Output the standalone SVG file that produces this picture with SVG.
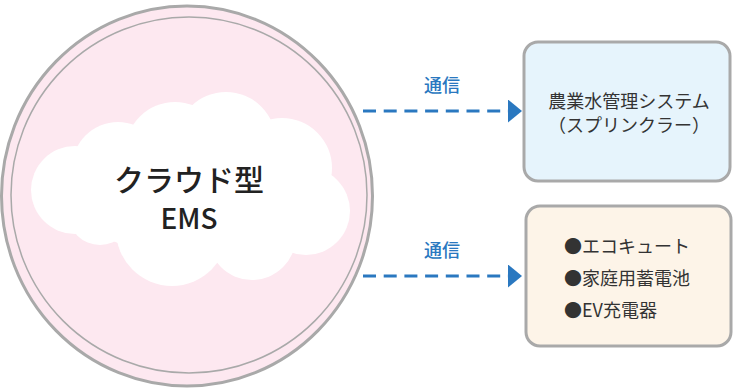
<svg xmlns="http://www.w3.org/2000/svg" width="743" height="389" viewBox="0 0 743 389">
<defs>
<style>
.jp{font-family:"Noto Sans CJK JP","Noto Sans",sans-serif;font-weight:500;}
.lbl{fill:#2a78c0;font-size:18px;text-anchor:middle;}
.box{stroke:#a9a9a9;stroke-width:3;}
.btxt{fill:#333;font-size:18px;font-weight:400;}
.conn{stroke:#2a78c0;stroke-width:3;stroke-dasharray:13 7.7;fill:none;}
.cloud circle,.cloud ellipse{fill:#fff;}
</style>
<marker id="ah" viewBox="0 0 14 23" refX="0" refY="11.5" markerWidth="14" markerHeight="23" markerUnits="userSpaceOnUse" orient="auto">
<path d="M0,0 L14,11.5 L0,23 Z" fill="#2a78c0"/>
</marker>
</defs>
<rect width="743" height="389" fill="#fff"/>
<g id="ems">
<ellipse cx="187" cy="196" rx="185.5" ry="190" fill="#fde8f0" stroke="#a9a9a9" stroke-width="3"/>
<circle cx="189" cy="195" r="178" fill="none" stroke="#a9a9a9" stroke-width="1.5"/>
<g class="cloud">
<circle cx="75" cy="190" r="44"/>
<circle cx="118" cy="168" r="46"/>
<circle cx="175" cy="152" r="50"/>
<circle cx="226" cy="142" r="50"/>
<circle cx="282" cy="168" r="50"/>
<circle cx="306" cy="211" r="44"/>
<circle cx="252" cy="236" r="44"/>
<circle cx="172" cy="230" r="56"/>
<circle cx="100" cy="213" r="32"/>
<ellipse cx="190" cy="195" rx="120" ry="60"/>
</g>
<text class="jp" x="189" y="191" font-size="30" fill="#222" text-anchor="middle">クラウド型</text>
<text class="jp" x="189" y="229" font-size="28" fill="#222" text-anchor="middle">EMS</text>
</g>
<g id="connectors">
<line class="conn" x1="363" y1="111" x2="508" y2="111" marker-end="url(#ah)"/>
<line class="conn" x1="363" y1="276" x2="508" y2="276" marker-end="url(#ah)"/>
<text class="jp lbl" x="442" y="92">通信</text>
<text class="jp lbl" x="442" y="257">通信</text>
</g>
<g id="agri">
<rect class="box" x="524" y="42" width="206" height="139" rx="14" fill="#e6f4fc"/>
<text class="jp btxt" x="629" y="108" text-anchor="middle" font-size="19">農業水管理システム</text>
<text class="jp btxt" x="629" y="132" text-anchor="middle" font-size="19">（スプリンクラー）</text>
</g>
<g id="home">
<rect class="box" x="526" y="206" width="205" height="140" rx="14" fill="#fdf4e8"/>
<text class="jp btxt" x="564" y="253">●エコキュート</text>
<text class="jp btxt" x="564" y="285">●家庭用蓄電池</text>
<text class="jp btxt" x="564" y="317">●EV充電器</text>
</g>
</svg>
